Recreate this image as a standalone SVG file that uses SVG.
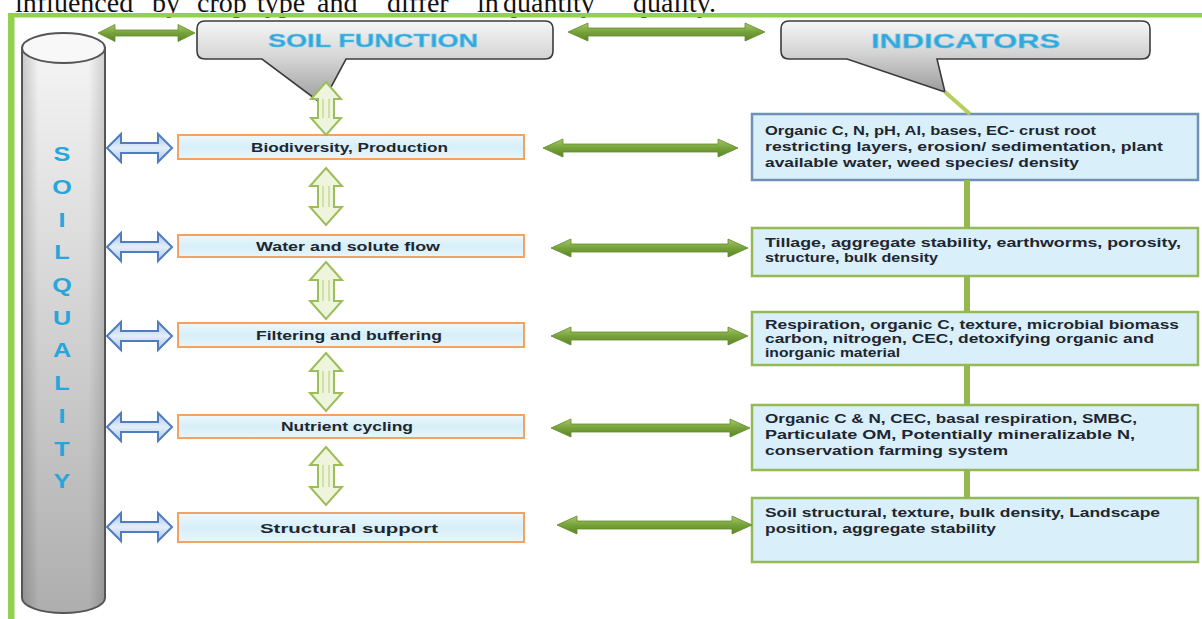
<svg xmlns="http://www.w3.org/2000/svg" width="1202" height="619" viewBox="0 0 1202 619">
<defs>
<style>
.top{font-family:"Liberation Serif",serif;font-size:28px;fill:#111}
.fn{font-family:"Liberation Sans",Arial,sans-serif;font-weight:700;font-size:12.5px;fill:#1e2630}
.ind{font-family:"Liberation Sans",Arial,sans-serif;font-weight:700;font-size:12.5px;fill:#1e2630}
.head{font-family:"Liberation Sans",Arial,sans-serif;font-weight:700;fill:#2fa8dc;stroke:#6fc3e8;stroke-width:0.5}
.sq{font-family:"Liberation Sans",Arial,sans-serif;font-weight:700;font-size:21px;fill:#27a6dc}
.fbox{fill:url(#gBox);stroke:#f2a263;stroke-width:2}
.ibox{fill:#d9eff9;stroke:#95b956;stroke-width:2.5}
.ibox1{fill:#d9eff9;stroke:#7090b5;stroke-width:2.5}
.garrow{fill:url(#gGreen);stroke:#5f8a2c;stroke-width:0.8}
.barrow{fill:url(#gBlue);stroke:#4f7dbf;stroke-width:2}
.varrow{fill:#eef5dc;stroke:#9dbd5a;stroke-width:2}
.vline{stroke:#b9d483;stroke-width:1.2;fill:none}
.callout{fill:url(#gCall);stroke:#3c3c3c;stroke-width:1.6}
.conn{stroke:#93b84e;stroke-width:6;fill:none}
</style>
<linearGradient id="gGreen" x1="0" y1="0" x2="0" y2="1">
<stop offset="0" stop-color="#a6c866"/>
<stop offset="0.5" stop-color="#77a23a"/>
<stop offset="1" stop-color="#5a8526"/>
</linearGradient>
<linearGradient id="gBlue" x1="0" y1="0" x2="0" y2="1">
<stop offset="0" stop-color="#a9c4e8"/>
<stop offset="0.5" stop-color="#e4eefa"/>
<stop offset="1" stop-color="#a9c4e8"/>
</linearGradient>
<linearGradient id="gBox" x1="0" y1="0" x2="0" y2="1">
<stop offset="0" stop-color="#eef8fc"/>
<stop offset="0.5" stop-color="#d6eff9"/>
<stop offset="1" stop-color="#e8f6fb"/>
</linearGradient>
<linearGradient id="gCall" x1="0" y1="0" x2="0" y2="1">
<stop offset="0" stop-color="#f6f6f6"/>
<stop offset="0.45" stop-color="#d4d4d4"/>
<stop offset="1" stop-color="#9c9c9c"/>
</linearGradient>
<linearGradient id="gCylV" x1="0" y1="0" x2="0" y2="1">
<stop offset="0" stop-color="#f4f4f4"/>
<stop offset="0.35" stop-color="#dcdcdc"/>
<stop offset="1" stop-color="#aeaeae"/>
</linearGradient>
<linearGradient id="gCylH" x1="0" y1="0" x2="1" y2="0">
<stop offset="0" stop-color="#000" stop-opacity="0.18"/>
<stop offset="0.2" stop-color="#000" stop-opacity="0"/>
<stop offset="0.8" stop-color="#000" stop-opacity="0"/>
<stop offset="1" stop-color="#000" stop-opacity="0.15"/>
</linearGradient>
</defs>
<rect width="1202" height="619" fill="#ffffff"/>

<g id="caption">
<text class="top" y="11.5"><tspan x="15">influenced</tspan><tspan x="152">by</tspan><tspan x="197">crop</tspan><tspan x="257">type</tspan><tspan x="317">and</tspan><tspan x="387">differ</tspan><tspan x="477">in</tspan><tspan x="503">quantity</tspan><tspan x="633">quality.</tspan></text>
</g>

<g id="frame">
<rect x="8" y="13" width="1194" height="4.5" fill="#92d050"/>
<rect x="8" y="13" width="6.5" height="606" fill="#92d050"/>
</g>

<g id="soil-quality">
<path d="M22,48 V598 A41.5,15 0 0 0 105,598 V48 Z" fill="url(#gCylV)"/>
<path d="M22,48 V598 A41.5,15 0 0 0 105,598 V48 Z" fill="url(#gCylH)" stroke="#555" stroke-width="2"/>
<ellipse cx="63.5" cy="48" rx="41.5" ry="15" fill="#f8f8f8" stroke="#555" stroke-width="2"/>
<g transform="translate(62,0) scale(1.2,1)">
<text class="sq" text-anchor="middle" x="0" y="161">S</text>
<text class="sq" text-anchor="middle" x="0" y="194">O</text>
<text class="sq" text-anchor="middle" x="0" y="227">I</text>
<text class="sq" text-anchor="middle" x="0" y="259">L</text>
<text class="sq" text-anchor="middle" x="0" y="292">Q</text>
<text class="sq" text-anchor="middle" x="0" y="325">U</text>
<text class="sq" text-anchor="middle" x="0" y="357">A</text>
<text class="sq" text-anchor="middle" x="0" y="390">L</text>
<text class="sq" text-anchor="middle" x="0" y="423">I</text>
<text class="sq" text-anchor="middle" x="0" y="456">T</text>
<text class="sq" text-anchor="middle" x="0" y="488">Y</text>
</g>
</g>

<g id="soil-function">
<path class="callout" d="M205,21 H545 Q553,21 553,29 V51 Q553,59 545,59 H346 L322,104 L262,59 H205 Q197,59 197,51 V29 Q197,21 205,21 Z"/>
<text class="head" font-size="18" x="268" y="47" textLength="210" lengthAdjust="spacingAndGlyphs">SOIL FUNCTION</text>
</g>

<g id="indicators">
<path class="callout" d="M789,21 H1142 Q1150,21 1150,29 V51 Q1150,59 1142,59 H937 L945,92 L847,59 H789 Q781,59 781,51 V29 Q781,21 789,21 Z"/>
<text class="head" font-size="21" x="871" y="48" textLength="189" lengthAdjust="spacingAndGlyphs">INDICATORS</text>
</g>

<g id="f1">
<rect class="fbox" x="178" y="135" width="346" height="24"/>
<text class="fn" x="251" y="151.5" textLength="197" lengthAdjust="spacingAndGlyphs">Biodiversity, Production</text>
</g>
<g id="f2">
<rect class="fbox" x="178" y="235" width="346" height="22"/>
<text class="fn" x="256" y="250.5" textLength="184" lengthAdjust="spacingAndGlyphs">Water and solute flow</text>
</g>
<g id="f3">
<rect class="fbox" x="178" y="323" width="346" height="24"/>
<text class="fn" x="256" y="339.5" textLength="186" lengthAdjust="spacingAndGlyphs">Filtering and buffering</text>
</g>
<g id="f4">
<rect class="fbox" x="178" y="415" width="346" height="23"/>
<text class="fn" x="281" y="431" textLength="132" lengthAdjust="spacingAndGlyphs">Nutrient cycling</text>
</g>
<g id="f5">
<rect class="fbox" x="178" y="513" width="346" height="29"/>
<text class="fn" font-size="15" x="260" y="533" textLength="178" lengthAdjust="spacingAndGlyphs">Structural support</text>
</g>

<g id="i1">
<rect class="ibox1" x="752" y="114" width="446" height="66"/>
<text class="ind" x="765" y="135" textLength="331" lengthAdjust="spacingAndGlyphs">Organic C, N, pH, Al, bases, EC- crust root</text>
<text class="ind" x="765" y="151" textLength="398" lengthAdjust="spacingAndGlyphs">restricting layers, erosion/ sedimentation, plant</text>
<text class="ind" x="765" y="167" textLength="314" lengthAdjust="spacingAndGlyphs">available water, weed species/ density</text>
</g>
<g id="i2">
<rect class="ibox" x="752" y="228" width="446" height="48"/>
<text class="ind" x="765" y="247" textLength="416" lengthAdjust="spacingAndGlyphs">Tillage, aggregate stability, earthworms, porosity,</text>
<text class="ind" x="765" y="262" textLength="173" lengthAdjust="spacingAndGlyphs">structure, bulk density</text>
</g>
<g id="i3">
<rect class="ibox" x="752" y="312" width="446" height="53"/>
<text class="ind" x="765" y="329" textLength="414" lengthAdjust="spacingAndGlyphs">Respiration, organic C, texture, microbial biomass</text>
<text class="ind" x="765" y="343" textLength="389" lengthAdjust="spacingAndGlyphs">carbon, nitrogen,  CEC, detoxifying organic and</text>
<text class="ind" x="765" y="357" textLength="135" lengthAdjust="spacingAndGlyphs">inorganic material</text>
</g>
<g id="i4">
<rect class="ibox" x="752" y="405" width="446" height="65"/>
<text class="ind" x="765" y="423" textLength="372" lengthAdjust="spacingAndGlyphs">Organic C &amp; N, CEC, basal respiration, SMBC,</text>
<text class="ind" x="765" y="439" textLength="370" lengthAdjust="spacingAndGlyphs">Particulate OM, Potentially mineralizable  N,</text>
<text class="ind" x="765" y="455" textLength="243" lengthAdjust="spacingAndGlyphs">conservation farming system</text>
</g>
<g id="i5">
<rect class="ibox" x="752" y="498" width="446" height="64"/>
<text class="ind" x="765" y="517" textLength="395" lengthAdjust="spacingAndGlyphs">Soil structural, texture, bulk density, Landscape</text>
<text class="ind" x="765" y="533" textLength="231" lengthAdjust="spacingAndGlyphs">position, aggregate stability</text>
</g>

<g id="connectors">
<path class="garrow" d="M98,33 L115,24.5 V30 H178 V24.5 L195,33 L178,41.5 V36 H115 V41.5 Z"/>
<path class="garrow" d="M568,32 L588,23 V28 H745 V23 L765,32 L745,41 V36 H588 V41 Z"/>
<path class="garrow" d="M543,148 L563,139 V144 H718 V139 L738,148 L718,157 V152 H563 V157 Z"/>
<path class="garrow" d="M551,248 L571,239 V244 H728 V239 L748,248 L728,257 V252 H571 V257 Z"/>
<path class="garrow" d="M551,336 L571,327 V332 H728 V327 L748,336 L728,345 V340 H571 V345 Z"/>
<path class="garrow" d="M551,428 L571,419 V424 H730 V419 L750,428 L730,437 V432 H571 V437 Z"/>
<path class="garrow" d="M557,525 L577,516 V521 H732 V516 L752,525 L732,534 V529 H577 V534 Z"/>
<path class="barrow" d="M107,148 L121,134 V143 H158 V134 L172,148 L158,162 V153 H121 V162 Z"/>
<path class="barrow" d="M107,247 L121,233 V242 H158 V233 L172,247 L158,261 V252 H121 V261 Z"/>
<path class="barrow" d="M107,336 L121,322 V331 H158 V322 L172,336 L158,350 V341 H121 V350 Z"/>
<path class="barrow" d="M107,427 L121,413 V422 H158 V413 L172,427 L158,441 V432 H121 V441 Z"/>
<path class="barrow" d="M107,527 L121,513 V522 H158 V513 L172,527 L158,541 V532 H121 V541 Z"/>
<path class="varrow" d="M326,82 L341,99 H334 V118 H341 L326,135 L311,118 H318 V99 H311 Z"/>
<path class="vline" d="M323,99 V118 M329,99 V118"/>
<path class="varrow" d="M326,168 L342,186 H334 V207 H342 L326,225 L310,207 H318 V186 H310 Z"/>
<path class="vline" d="M323,186 V207 M329,186 V207"/>
<path class="varrow" d="M326,262 L342,280 H334 V301 H342 L326,319 L310,301 H318 V280 H310 Z"/>
<path class="vline" d="M323,280 V301 M329,280 V301"/>
<path class="varrow" d="M326,353 L342,371 H334 V393 H342 L326,411 L310,393 H318 V371 H310 Z"/>
<path class="vline" d="M323,371 V393 M329,371 V393"/>
<path class="varrow" d="M326,447 L342,465 H334 V487 H342 L326,505 L310,487 H318 V465 H310 Z"/>
<path class="vline" d="M323,465 V487 M329,465 V487"/>
<path d="M945,92 L970,114" stroke="#b5cf5e" stroke-width="4" fill="none"/>
<path class="conn" d="M967,180 V228 M967,276 V312 M967,365 V405 M967,470 V498"/>
</g>
</svg>
